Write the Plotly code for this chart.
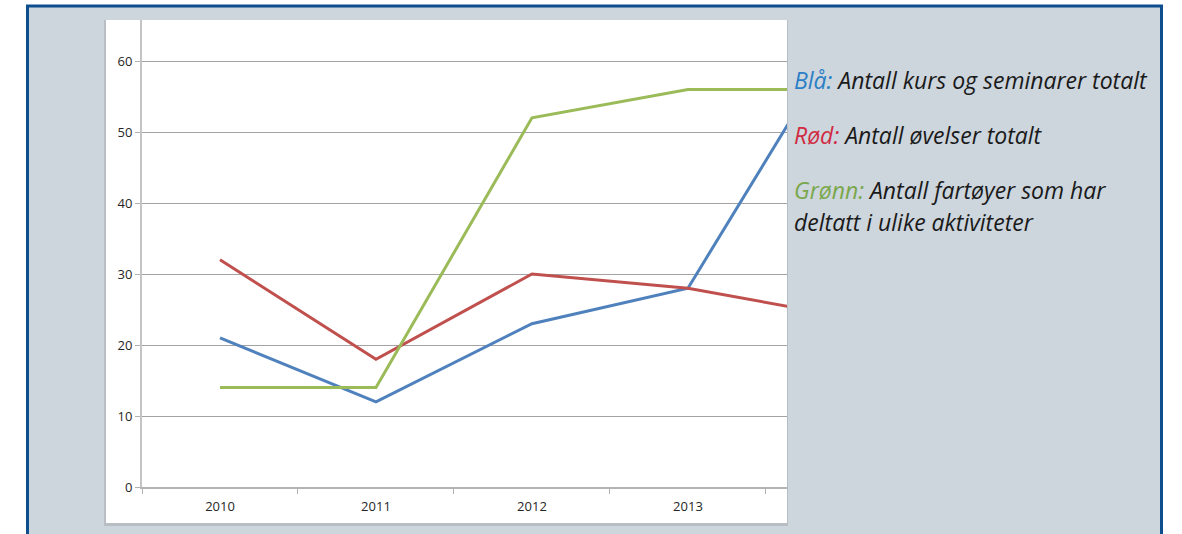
import plotly.graph_objects as go

# Data
years = ["2010", "2011", "2012", "2013", "2014"]
kurs_seminarer = [21, 12, 23, 28, 64]   # blå
ovelser = [32, 18, 30, 28, 24]          # rød
fartoyer = [14, 14, 52, 56, 56]         # grønn

y_ticks = [0, 10, 20, 30, 40, 50, 60]

W, H = 1182, 534
L, R, T, B = 142, 787, 20, 487  # plot area in pixels


def px(x):
    return (x - L) / (R - L)


def py(y):
    return (B - y) / (B - T)


fig = go.Figure()

series = [
    (kurs_seminarer, "#4f81bd"),
    (ovelser, "#c0504d"),
    (fartoyer, "#9bbb59"),
]
for vals, col in series:
    fig.add_trace(go.Scatter(
        x=years, y=vals, mode="lines",
        line=dict(color=col, width=3),
        showlegend=False, hoverinfo="skip",
    ))

shapes = [
    # outer panel with dark blue frame
    dict(type="rect", xref="paper", yref="paper",
         x0=px(27.5), x1=px(1161.5), y0=py(560), y1=py(6),
         fillcolor="#cdd5dd", line=dict(color="#0c4e8e", width=3),
         layer="below"),
    # white chart card with soft shadow
    dict(type="rect", xref="paper", yref="paper",
         x0=px(104), x1=px(788), y0=py(526), y1=py(20),
         fillcolor="#b9bec4", line=dict(width=0), layer="below"),
    dict(type="rect", xref="paper", yref="paper",
         x0=px(106), x1=px(787), y0=py(523), y1=py(20),
         fillcolor="#ffffff", line=dict(width=0), layer="below"),
]

font_txt = "Open Sans"
txt_col = "#1a1a1a"
labels = [
    ("<span style='color:#2a7fc6'>Blå:</span> Antall kurs og seminarer totalt", 80),
    ("<span style='color:#d12b42'>Rød:</span> Antall øvelser totalt", 135),
    ("<span style='color:#79a84b'>Grønn:</span> Antall fartøyer som har", 190),
    ("deltatt i ulike aktiviteter", 222),
]
annotations = []
for text, yc in labels:
    annotations.append(dict(
        text="<i>" + text + "</i>", xref="paper", yref="paper",
        x=px(792), y=py(yc), xanchor="left", yanchor="middle",
        showarrow=False, font=dict(family=font_txt, size=23, color=txt_col),
    ))

fig.update_layout(
    width=W, height=H,
    margin=dict(l=L, r=W - R, t=T, b=H - B, pad=0),
    paper_bgcolor="#ffffff",
    plot_bgcolor="rgba(0,0,0,0)",
    shapes=shapes,
    annotations=annotations,
    font=dict(family="Open Sans", color="#262626"),
    xaxis=dict(
        type="category", range=[-0.5, 3.635],
        tickson="boundaries", ticks="outside", ticklen=5,
        tickcolor="#b0b0b0", tickwidth=1,
        showline=True, linecolor="#b3b3b3", linewidth=2,
        showgrid=False, zeroline=False,
        tickfont=dict(size=13, color="#262626"),
        ticklabelstandoff=6,
    ),
    yaxis=dict(
        range=[0, (B - T) / 71.0 * 10], tickvals=y_ticks,
        ticks="outside", ticklen=5, tickcolor="#b0b0b0", tickwidth=1,
        showline=True, linecolor="#c4c4c4", linewidth=2,
        showgrid=True, gridcolor="#a3a3a3", gridwidth=1,
        zeroline=False,
        tickfont=dict(size=13, color="#262626"),
    ),
)

fig.write_html("out.html")
